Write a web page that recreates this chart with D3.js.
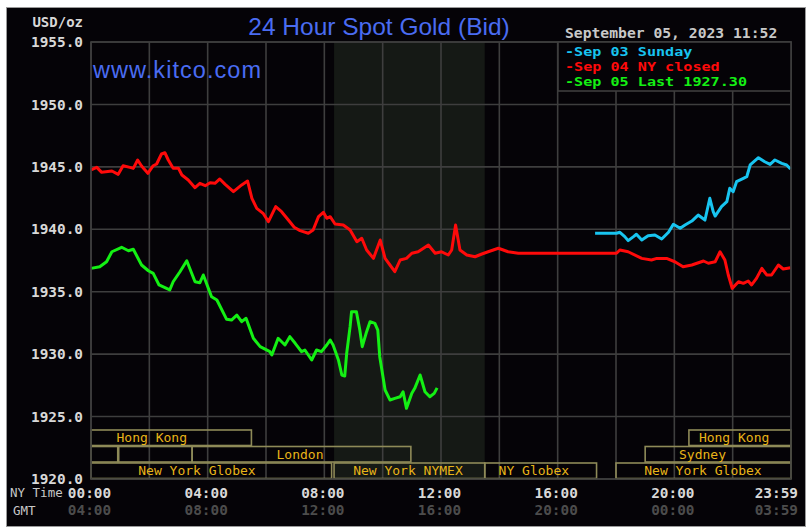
<!DOCTYPE html>
<html><head><meta charset="utf-8">
<script src="https://cdn.jsdelivr.net/npm/d3@7"></script>
<style>body{margin:0;background:#fff}svg{display:block}</style>
</head><body><svg id="c" width="810" height="531"></svg>
<script>
// ---- data (time in minutes after 00:00 NY, price USD/oz) ----
const sep04 = [[0,1944.75],[12,1944.96],[22,1944.56],[43,1944.67],[56,1944.40],[66,1945.09],[80,1944.96],[87,1944.88],[96,1945.55],[104,1945.07],[117,1944.48],[128,1945.09],[135,1945.23],[145,1946.03],[152,1946.13],[159,1945.55],[169,1944.88],[180,1944.88],[187,1944.35],[200,1943.95],[214,1943.33],[224,1943.68],[235,1943.49],[245,1943.73],[255,1943.68],[265,1944.03],[276,1943.60],[293,1943.01],[310,1943.55],[322,1943.87],[331,1942.48],[341,1941.68],[354,1941.28],[365,1940.61],[380,1941.81],[392,1941.41],[406,1940.74],[418,1940.16],[430,1939.89],[447,1939.68],[457,1939.94],[468,1941.01],[478,1941.36],[485,1940.88],[492,1941.01],[502,1940.42],[519,1940.34],[533,1939.94],[547,1939.00],[557,1939.28],[567,1938.34],[581,1937.67],[595,1939.14],[605,1937.67],[615,1937.14],[625,1936.60],[636,1937.54],[649,1937.67],[660,1938.08],[673,1938.20],[684,1938.48],[694,1938.74],[708,1938.08],[721,1938.20],[735,1937.94],[742,1938.34],[750,1940.34],[759,1938.34],[773,1937.94],[790,1937.80],[804,1938.02],[817,1938.20],[838,1938.48],[858,1938.20],[879,1938.08],[1081,1938.08],[1088,1938.34],[1105,1938.20],[1133,1937.67],[1153,1937.54],[1164,1937.67],[1184,1937.67],[1201,1937.40],[1218,1937.00],[1236,1937.14],[1260,1937.46],[1270,1937.28],[1284,1937.40],[1294,1938.20],[1304,1937.54],[1311,1936.34],[1319,1935.27],[1332,1935.80],[1342,1935.67],[1352,1935.86],[1359,1935.54],[1369,1936.07],[1380,1936.87],[1390,1936.34],[1400,1936.34],[1414,1937.14],[1424,1936.82],[1439,1936.92]];
const sep05 = [[0,1936.87],[18,1937.00],[32,1937.40],[43,1938.20],[63,1938.56],[77,1938.28],[87,1938.40],[104,1937.14],[118,1936.68],[128,1936.47],[140,1935.54],[162,1935.14],[169,1935.80],[183,1936.60],[197,1937.48],[214,1935.80],[224,1935.72],[231,1936.34],[248,1934.60],[259,1934.34],[279,1932.79],[289,1932.73],[300,1933.13],[310,1932.60],[319,1932.87],[334,1931.27],[348,1930.60],[368,1930.20],[372,1929.93],[385,1931.27],[399,1930.73],[409,1931.40],[420,1930.87],[433,1930.20],[440,1930.33],[454,1929.53],[464,1930.33],[474,1930.20],[485,1930.73],[492,1931.13],[498,1930.73],[509,1929.53],[516,1928.33],[522,1928.25],[526,1930.07],[533,1932.20],[536,1933.40],[546,1933.40],[553,1931.93],[558,1930.60],[567,1931.80],[574,1932.60],[584,1932.47],[590,1931.93],[594,1929.80],[605,1927.13],[615,1926.33],[625,1926.46],[636,1926.59],[642,1926.99],[649,1925.66],[660,1926.86],[666,1927.26],[677,1928.33],[687,1926.99],[697,1926.59],[706,1926.86],[712,1927.30]];
const sep03 = [[1037,1939.68],[1081,1939.68],[1088,1939.76],[1098,1939.41],[1105,1939.09],[1116,1939.41],[1122,1939.60],[1133,1939.14],[1146,1939.49],[1160,1939.54],[1174,1939.22],[1188,1939.76],[1198,1940.40],[1212,1940.08],[1222,1940.34],[1236,1940.66],[1249,1941.14],[1263,1940.74],[1273,1942.48],[1280,1941.41],[1284,1941.06],[1297,1941.81],[1308,1942.21],[1314,1943.28],[1321,1943.01],[1328,1943.81],[1342,1944.08],[1349,1944.21],[1356,1945.15],[1373,1945.73],[1386,1945.41],[1397,1945.20],[1407,1945.55],[1421,1945.28],[1431,1945.15],[1439,1944.83]];

const yTicks = [1920,1925,1930,1935,1940,1945,1950,1955];
const xGrid = [0,120,240,360,480,600,720,840,960,1080,1200,1320,1440];
const xTicks = [0,240,480,720,960,1200,1439];
const nyLabels = ["00:00","04:00","08:00","12:00","16:00","20:00","23:59"];
const gmtLabels = ["04:00","08:00","12:00","16:00","20:00","00:00","03:59"];

const legendNames = ["Sep 03 Sunday","Sep 04 NY closed","Sep 05 Last 1927.30"];
const titleText = "24 Hour Spot Gold (Bid)";
const dateText = "September 05, 2023 11:52";

const shadeRange = [500, 810]; // NYMEX pit hours
// sessions: row, start, end, label, label centre (minutes)
const sessRow = [0,0,1,1,1,1,2,2,2,2];
const sessStart = [0,1230,0,57,208,1140,0,500,810,1080];
const sessEnd = [330,1440,55,208,658,1440,495,810,1040,1440];
const sessLabel = ["Hong Kong","Hong Kong","","","London","Sydney","New York Globex","New York NYMEX","NY Globex","New York Globex"];
const sessLabelAt = [125,1323,0,0,430,1258,218,652,911,1259];

// ---- drawing ----
const svg = d3.select("#c");
const L = 91, R = 791, T = 42, B = 479;
const x = d3.scaleLinear().domain([0,1440]).range([L,R]);
const y = d3.scaleLinear().domain([1920,1955]).range([B,T]);
const mono = "'DejaVu Sans Mono', 'Liberation Mono', monospace";
const gridCol = "#3e3e3e";

svg.append("rect").attr("x",6.5).attr("y",7.5).attr("width",799).attr("height",519)
  .attr("fill","#050307").attr("stroke","#9a9a9a").attr("stroke-width",1);

// shaded NYMEX region
svg.append("rect").attr("x",x(shadeRange[0])).attr("y",T)
  .attr("width",x(shadeRange[1])-x(shadeRange[0])).attr("height",B-T)
  .attr("fill","#151915");

// grid
const g = svg.append("g");
g.selectAll("line.h").data(yTicks).join("line")
  .attr("x1",L).attr("x2",R).attr("y1",d=>y(d)).attr("y2",d=>y(d))
  .attr("stroke",gridCol).attr("stroke-width",1.6);
g.selectAll("line.v").data(xGrid).join("line")
  .attr("y1",T).attr("y2",B).attr("x1",d=>x(d)).attr("x2",d=>x(d))
  .attr("stroke",gridCol).attr("stroke-width",1.6);

// sessions
const rowTop = r => 430 + r*16.5;
const sess = svg.append("g");
sessRow.forEach((r,i)=>{
  sess.append("rect").attr("x",x(sessStart[i])).attr("y",rowTop(r))
    .attr("width",x(sessEnd[i])-x(sessStart[i])).attr("height",15.5)
    .attr("fill","none").attr("stroke","#8e8a58").attr("stroke-width",1.6);
  if (sessLabel[i]) sess.append("text").attr("x",x(sessLabelAt[i])).attr("y",rowTop(r)+12)
    .attr("text-anchor","middle").attr("fill","#e8b418")
    .attr("font-family",mono).attr("font-size",13).text(sessLabel[i]);
});

// lines
const line = d3.line().x(d=>x(d[0])).y(d=>y(d[1]));
const seriesData = [sep03, sep04, sep05];
const seriesCol = ["#18c4f0","#ff0a0a","#14f014"];
seriesData.forEach((s,i)=>{
  svg.append("path").datum(s).attr("d",line).attr("fill","none")
    .attr("stroke",seriesCol[i]).attr("stroke-width",3).attr("stroke-linejoin","round");
});

// y axis labels
const yAxis = d3.axisLeft(y).tickValues(yTicks).tickFormat(d3.format(".1f")).tickSize(0).tickPadding(8);
const ya = svg.append("g").attr("transform",`translate(${L},0)`).call(yAxis);
ya.select(".domain").remove();
ya.selectAll("text").attr("fill","#d8d8d8").attr("font-family",mono).attr("font-weight","bold").attr("font-size",14.4);
svg.append("text").attr("x",83).attr("y",27).attr("text-anchor","end").attr("fill","#d8d8d8")
  .attr("font-family",mono).attr("font-weight","bold").attr("font-size",14).text("USD/oz");

// x axis labels
function xRow(labels, yy, col){
  const ax = d3.axisBottom(x).tickValues(xTicks).tickFormat((d,i)=>labels[i]).tickSize(0).tickPadding(0);
  const a = svg.append("g").attr("transform",`translate(0,${yy})`).call(ax);
  a.select(".domain").remove();
  a.selectAll("text").attr("fill",col).attr("font-family",mono).attr("font-weight","bold").attr("font-size",14.4)
    .attr("dy",0).attr("dx",-2);
  a.selectAll(".tick:last-of-type text").attr("text-anchor","end").attr("dx",7);
}
xRow(nyLabels, 498, "#d8d8d8");
xRow(gmtLabels, 515, "#4c4c4c");
svg.append("text").attr("x",10).attr("y",497).attr("fill","#c8c8c8").attr("font-family",mono)
  .attr("font-size",12.5).text("NY Time");
svg.append("text").attr("x",13).attr("y",515).attr("fill","#c8c8c8").attr("font-family",mono)
  .attr("font-size",12.5).text("GMT");

// plot border
svg.append("rect").attr("x",L).attr("y",T).attr("width",R-L).attr("height",B-T)
  .attr("fill","none").attr("stroke",gridCol).attr("stroke-width",1.6);

// titles
svg.append("text").attr("x",379).attr("y",35).attr("text-anchor","middle").attr("fill","#4a6cf2")
  .attr("font-family","'Liberation Sans', Arial, sans-serif").attr("font-size",24.5).text(titleText);
svg.append("text").attr("x",93).attr("y",78).attr("fill","#4a6cf2")
  .attr("font-family","'Liberation Sans', Arial, sans-serif").attr("font-size",23.5)
  .attr("textLength",168).text("www.kitco.com");
svg.append("text").attr("x",565).attr("y",38).attr("fill","#c8c8c8").attr("font-family",mono)
  .attr("font-weight","bold").attr("font-size",14.7).text(dateText);

// legend
svg.append("rect").attr("x",558).attr("y",T).attr("width",R-558).attr("height",49)
  .attr("fill","#050307").attr("stroke",gridCol).attr("stroke-width",1.6);
legendNames.forEach((n,i)=>{
  const s = "-"+n;
  svg.append("text").attr("x",565).attr("y",56+i*15).attr("fill",seriesCol[i])
    .attr("font-family",mono).attr("font-weight","bold").attr("font-size",12.8)
    .attr("textLength",s.length*9.1).attr("lengthAdjust","spacingAndGlyphs").text(s);
});
</script></body></html>
